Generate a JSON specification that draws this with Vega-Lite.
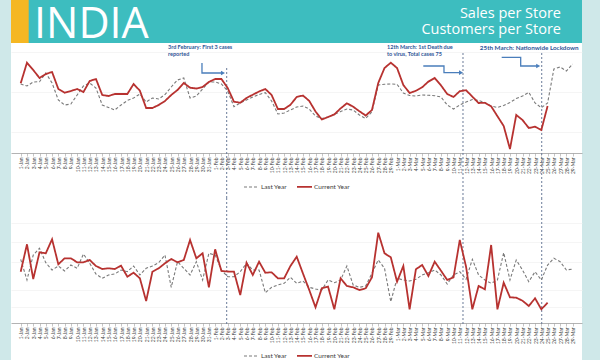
{
  "$schema": "https://vega.github.io/schema/vega-lite/v6.json",
  "background": "#cfe8e9",
  "padding": {"left": 11, "right": 18, "top": 0, "bottom": 0},
  "bounds": "flush",
  "spacing": 0,
  "config": {
    "font": "Lato",
    "view": {"stroke": null},
    "axis": {"labelFont": "Lato"},
    "legend": {"labelFont": "Lato"}
  },
  "resolve": {"scale": {"color": "independent", "strokeDash": "independent", "strokeWidth": "independent"}},
  "datasets": {
    "sales": [
      {"date":"2020-01-01","Last Year":68,"Current Year":68.7},
      {"date":"2020-01-02","Last Year":66,"Current Year":89.3},
      {"date":"2020-01-03","Last Year":70,"Current Year":82},
      {"date":"2020-01-04","Last Year":70.3,"Current Year":74},
      {"date":"2020-01-05","Last Year":79,"Current Year":78},
      {"date":"2020-01-06","Last Year":69,"Current Year":80},
      {"date":"2020-01-07","Last Year":52,"Current Year":63},
      {"date":"2020-01-08","Last Year":47,"Current Year":59.3},
      {"date":"2020-01-09","Last Year":48,"Current Year":61},
      {"date":"2020-01-10","Last Year":57,"Current Year":63},
      {"date":"2020-01-11","Last Year":66,"Current Year":60},
      {"date":"2020-01-12","Last Year":69,"Current Year":71},
      {"date":"2020-01-13","Last Year":64,"Current Year":73},
      {"date":"2020-01-14","Last Year":47,"Current Year":57},
      {"date":"2020-01-15","Last Year":44.5,"Current Year":56},
      {"date":"2020-01-16","Last Year":42,"Current Year":58},
      {"date":"2020-01-17","Last Year":47,"Current Year":58},
      {"date":"2020-01-18","Last Year":51.5,"Current Year":58},
      {"date":"2020-01-19","Last Year":54,"Current Year":68},
      {"date":"2020-01-20","Last Year":58,"Current Year":61.3},
      {"date":"2020-01-21","Last Year":50,"Current Year":44},
      {"date":"2020-01-22","Last Year":54,"Current Year":44},
      {"date":"2020-01-23","Last Year":53,"Current Year":47},
      {"date":"2020-01-24","Last Year":57.5,"Current Year":51},
      {"date":"2020-01-25","Last Year":65,"Current Year":57},
      {"date":"2020-01-26","Last Year":72,"Current Year":62},
      {"date":"2020-01-27","Last Year":74,"Current Year":69},
      {"date":"2020-01-28","Last Year":54,"Current Year":64.3},
      {"date":"2020-01-29","Last Year":56,"Current Year":63.5},
      {"date":"2020-01-30","Last Year":63,"Current Year":65},
      {"date":"2020-01-31","Last Year":70,"Current Year":70},
      {"date":"2020-02-01","Last Year":70,"Current Year":73},
      {"date":"2020-02-02","Last Year":68,"Current Year":73},
      {"date":"2020-02-03","Last Year":61,"Current Year":64},
      {"date":"2020-02-04","Last Year":45.3,"Current Year":50.3},
      {"date":"2020-02-05","Last Year":49,"Current Year":49.3},
      {"date":"2020-02-06","Last Year":52,"Current Year":54},
      {"date":"2020-02-07","Last Year":55,"Current Year":57.3},
      {"date":"2020-02-08","Last Year":57.5,"Current Year":60.5},
      {"date":"2020-02-09","Last Year":59.3,"Current Year":63},
      {"date":"2020-02-10","Last Year":51,"Current Year":57},
      {"date":"2020-02-11","Last Year":38,"Current Year":43},
      {"date":"2020-02-12","Last Year":39,"Current Year":43},
      {"date":"2020-02-13","Last Year":42,"Current Year":47.2},
      {"date":"2020-02-14","Last Year":45,"Current Year":55},
      {"date":"2020-02-15","Last Year":46,"Current Year":56.5},
      {"date":"2020-02-16","Last Year":43,"Current Year":51.1},
      {"date":"2020-02-17","Last Year":36,"Current Year":40.5},
      {"date":"2020-02-18","Last Year":33.5,"Current Year":32.5},
      {"date":"2020-02-19","Last Year":35,"Current Year":35},
      {"date":"2020-02-20","Last Year":37.5,"Current Year":37.6},
      {"date":"2020-02-21","Last Year":40.5,"Current Year":43.6},
      {"date":"2020-02-22","Last Year":43,"Current Year":48.7},
      {"date":"2020-02-23","Last Year":42,"Current Year":45.3},
      {"date":"2020-02-24","Last Year":37,"Current Year":40.7},
      {"date":"2020-02-25","Last Year":33.5,"Current Year":36.5},
      {"date":"2020-02-26","Last Year":40.3,"Current Year":42},
      {"date":"2020-02-27","Last Year":67,"Current Year":69},
      {"date":"2020-02-28","Last Year":67.8,"Current Year":84},
      {"date":"2020-02-29","Last Year":68,"Current Year":89.3},
      {"date":"2020-03-01","Last Year":67.7,"Current Year":84},
      {"date":"2020-03-02","Last Year":59,"Current Year":67},
      {"date":"2020-03-03","Last Year":56.5,"Current Year":59},
      {"date":"2020-03-04","Last Year":56,"Current Year":61.2},
      {"date":"2020-03-05","Last Year":57,"Current Year":64.7},
      {"date":"2020-03-06","Last Year":56.7,"Current Year":70.4},
      {"date":"2020-03-07","Last Year":56.3,"Current Year":74},
      {"date":"2020-03-08","Last Year":55,"Current Year":66.6},
      {"date":"2020-03-09","Last Year":47,"Current Year":58},
      {"date":"2020-03-10","Last Year":43,"Current Year":55},
      {"date":"2020-03-11","Last Year":47,"Current Year":60.8},
      {"date":"2020-03-12","Last Year":50,"Current Year":61.8},
      {"date":"2020-03-13","Last Year":52.5,"Current Year":55.4},
      {"date":"2020-03-14","Last Year":51.5,"Current Year":49},
      {"date":"2020-03-15","Last Year":49.5,"Current Year":49.2},
      {"date":"2020-03-16","Last Year":46,"Current Year":45.7},
      {"date":"2020-03-17","Last Year":44.5,"Current Year":35.8},
      {"date":"2020-03-18","Last Year":46.5,"Current Year":26},
      {"date":"2020-03-19","Last Year":49.5,"Current Year":3},
      {"date":"2020-03-20","Last Year":53.5,"Current Year":37},
      {"date":"2020-03-21","Last Year":56,"Current Year":32},
      {"date":"2020-03-22","Last Year":59.7,"Current Year":24},
      {"date":"2020-03-23","Last Year":49,"Current Year":25.3},
      {"date":"2020-03-24","Last Year":44.3,"Current Year":22},
      {"date":"2020-03-25","Last Year":49,"Current Year":46},
      {"date":"2020-03-26","Last Year":83},
      {"date":"2020-03-27","Last Year":85},
      {"date":"2020-03-28","Last Year":81},
      {"date":"2020-03-29","Last Year":88}
    ],
    "customers": [
      {"date":"2020-01-01","Last Year":63.7,"Current Year":51.3},
      {"date":"2020-01-02","Last Year":43,"Current Year":78.7},
      {"date":"2020-01-03","Last Year":68,"Current Year":44},
      {"date":"2020-01-04","Last Year":74.7,"Current Year":70.7},
      {"date":"2020-01-05","Last Year":60.3,"Current Year":69.7},
      {"date":"2020-01-06","Last Year":53,"Current Year":83.7},
      {"date":"2020-01-07","Last Year":57,"Current Year":58.7},
      {"date":"2020-01-08","Last Year":52,"Current Year":64.7},
      {"date":"2020-01-09","Last Year":58,"Current Year":64.7},
      {"date":"2020-01-10","Last Year":54.7,"Current Year":60.7},
      {"date":"2020-01-11","Last Year":69,"Current Year":60.7},
      {"date":"2020-01-12","Last Year":59.7,"Current Year":63},
      {"date":"2020-01-13","Last Year":49,"Current Year":57},
      {"date":"2020-01-14","Last Year":44.7,"Current Year":54},
      {"date":"2020-01-15","Last Year":48,"Current Year":54.7},
      {"date":"2020-01-16","Last Year":49,"Current Year":54},
      {"date":"2020-01-17","Last Year":53,"Current Year":57.3},
      {"date":"2020-01-18","Last Year":51.3,"Current Year":46.3},
      {"date":"2020-01-19","Last Year":57,"Current Year":50.3},
      {"date":"2020-01-20","Last Year":48,"Current Year":44.7},
      {"date":"2020-01-21","Last Year":54.7,"Current Year":22},
      {"date":"2020-01-22","Last Year":57,"Current Year":51.3},
      {"date":"2020-01-23","Last Year":60.3,"Current Year":54.7},
      {"date":"2020-01-24","Last Year":68,"Current Year":59.7},
      {"date":"2020-01-25","Last Year":35.7,"Current Year":64},
      {"date":"2020-01-26","Last Year":61.3,"Current Year":60.7},
      {"date":"2020-01-27","Last Year":54.7,"Current Year":63},
      {"date":"2020-01-28","Last Year":48,"Current Year":83},
      {"date":"2020-01-29","Last Year":61.3,"Current Year":64.7},
      {"date":"2020-01-30","Last Year":43,"Current Year":69.7},
      {"date":"2020-01-31","Last Year":69.7,"Current Year":35.7},
      {"date":"2020-02-01","Last Year":68,"Current Year":73.7},
      {"date":"2020-02-02","Last Year":53,"Current Year":52},
      {"date":"2020-02-03","Last Year":46.3,"Current Year":51.5},
      {"date":"2020-02-04","Last Year":46.3,"Current Year":51.3},
      {"date":"2020-02-05","Last Year":51.3,"Current Year":28},
      {"date":"2020-02-06","Last Year":59.7,"Current Year":60.3},
      {"date":"2020-02-07","Last Year":53,"Current Year":48},
      {"date":"2020-02-08","Last Year":53,"Current Year":61.3},
      {"date":"2020-02-09","Last Year":30.3,"Current Year":50.3},
      {"date":"2020-02-10","Last Year":35.7,"Current Year":50.7},
      {"date":"2020-02-11","Last Year":38,"Current Year":44.7},
      {"date":"2020-02-12","Last Year":39.7,"Current Year":44.7},
      {"date":"2020-02-13","Last Year":45.7,"Current Year":57},
      {"date":"2020-02-14","Last Year":39.7,"Current Year":66.3},
      {"date":"2020-02-15","Last Year":42,"Current Year":49.5},
      {"date":"2020-02-16","Last Year":35.7,"Current Year":33},
      {"date":"2020-02-17","Last Year":34,"Current Year":15.7},
      {"date":"2020-02-18","Last Year":33,"Current Year":34.7},
      {"date":"2020-02-19","Last Year":43,"Current Year":36.3},
      {"date":"2020-02-20","Last Year":40.3,"Current Year":13.7},
      {"date":"2020-02-21","Last Year":43,"Current Year":44.7},
      {"date":"2020-02-22","Last Year":57,"Current Year":37},
      {"date":"2020-02-23","Last Year":38,"Current Year":35.7},
      {"date":"2020-02-24","Last Year":35.7,"Current Year":33},
      {"date":"2020-02-25","Last Year":37,"Current Year":34.7},
      {"date":"2020-02-26","Last Year":49.7,"Current Year":45.7},
      {"date":"2020-02-27","Last Year":63,"Current Year":90.3},
      {"date":"2020-02-28","Last Year":54.7,"Current Year":69.7},
      {"date":"2020-02-29","Last Year":21.3,"Current Year":65.7},
      {"date":"2020-03-01","Last Year":44.7,"Current Year":41.3},
      {"date":"2020-03-02","Last Year":43,"Current Year":57},
      {"date":"2020-03-03","Last Year":42,"Current Year":13.7},
      {"date":"2020-03-04","Last Year":43.7,"Current Year":53.7},
      {"date":"2020-03-05","Last Year":48,"Current Year":58},
      {"date":"2020-03-06","Last Year":50.3,"Current Year":47},
      {"date":"2020-03-07","Last Year":53,"Current Year":61.3},
      {"date":"2020-03-08","Last Year":48,"Current Year":52.3},
      {"date":"2020-03-09","Last Year":39,"Current Year":43},
      {"date":"2020-03-10","Last Year":48,"Current Year":45.7},
      {"date":"2020-03-11","Last Year":51.3,"Current Year":83},
      {"date":"2020-03-12","Last Year":43.7,"Current Year":56.3},
      {"date":"2020-03-13","Last Year":63.7,"Current Year":13.7},
      {"date":"2020-03-14","Last Year":48,"Current Year":37},
      {"date":"2020-03-15","Last Year":43,"Current Year":33.7},
      {"date":"2020-03-16","Last Year":39.7,"Current Year":78},
      {"date":"2020-03-17","Last Year":43,"Current Year":13.7},
      {"date":"2020-03-18","Last Year":70.3,"Current Year":40.3},
      {"date":"2020-03-19","Last Year":43,"Current Year":25.7},
      {"date":"2020-03-20","Last Year":63,"Current Year":25.3},
      {"date":"2020-03-21","Last Year":53,"Current Year":22.3},
      {"date":"2020-03-22","Last Year":41.3,"Current Year":17},
      {"date":"2020-03-23","Last Year":51.3,"Current Year":24.7},
      {"date":"2020-03-24","Last Year":43,"Current Year":13.7},
      {"date":"2020-03-25","Last Year":58,"Current Year":20.3},
      {"date":"2020-03-26","Last Year":64.7},
      {"date":"2020-03-27","Last Year":61.3},
      {"date":"2020-03-28","Last Year":53},
      {"date":"2020-03-29","Last Year":54}
    ],
    "events": [
      {"date":"2020-02-02T20:10:00Z","event":"first cases"},
      {"date":"2020-03-11T12:15:00Z","event":"first death"},
      {"date":"2020-03-24T01:30:00Z","event":"lockdown"}
    ],
    "notes": [
      {"date":"2020-01-24T11:30:00Z","value":107.5,"event":"first cases","note":"3rd February:  First 3 cases\nreported"},
      {"date":"2020-02-28T09:36:00Z","value":107.5,"event":"first death","note":"12th March: 1st Death due\nto virus, Total cases 75"},
      {"date":"2020-03-14T04:48:00Z","value":107.5,"event":"lockdown","note":"25th March: Nationwide  Lockdown"}
    ],
    "arrows": [
      {"arrow":"a","step":1,"date":"2020-01-29T21:36:00Z","value":89},
      {"arrow":"a","step":2,"date":"2020-01-29T21:36:00Z","value":79},
      {"arrow":"a","step":3,"date":"2020-02-02T02:24:00Z","value":79},
      {"arrow":"b","step":1,"date":"2020-03-05T04:19:00Z","value":86},
      {"arrow":"b","step":2,"date":"2020-03-08T11:31:00Z","value":86},
      {"arrow":"b","step":3,"date":"2020-03-08T11:31:00Z","value":79.3},
      {"arrow":"b","step":4,"date":"2020-03-11T03:36:00Z","value":79.3},
      {"arrow":"c","step":1,"date":"2020-03-17T16:19:00Z","value":94.7},
      {"arrow":"c","step":2,"date":"2020-03-20T17:02:00Z","value":94.7},
      {"arrow":"c","step":3,"date":"2020-03-20T17:02:00Z","value":86},
      {"arrow":"c","step":4,"date":"2020-03-23T08:38:00Z","value":86}
    ],
    "arrowheads": [
      {"arrow":"a","date":"2020-02-02T06:00:00Z","value":79},
      {"arrow":"b","date":"2020-03-11T04:48:00Z","value":79.3},
      {"arrow":"c","date":"2020-03-23T12:00:00Z","value":86}
    ]
  },
  "vconcat": [
    {
      "width": 571,
      "height": 43,
      "view": {"fill": "#3dbdbf", "stroke": null},
      "data": {"values": [{"heading": "INDIA", "topic1": "Sales per Store", "topic2": "Customers per Store"}]},
      "layer": [
        {
          "mark": {"type": "rect", "color": "#f5b723"},
          "encoding": {
            "x": {"datum": 0, "type": "quantitative", "scale": {"domain": [0, 1], "nice": false, "zero": false}, "axis": null},
            "x2": {"datum": 0.031}
          }
        },
        {
          "mark": {"type": "text", "align": "left", "baseline": "alphabetic", "dx": 23, "dy": 16.5, "font": "Open Sans", "fontSize": 43, "color": "white"},
          "encoding": {
            "x": {"datum": 0, "type": "quantitative", "scale": {"domain": [0, 1], "nice": false, "zero": false}, "axis": null},
            "text": {"field": "heading"}
          }
        },
        {
          "mark": {"type": "text", "align": "right", "baseline": "middle", "dx": -21, "dy": -7.5, "font": "Open Sans", "fontSize": 14.5, "color": "white"},
          "encoding": {
            "x": {"datum": 1, "type": "quantitative", "scale": {"domain": [0, 1], "nice": false, "zero": false}, "axis": null},
            "text": {"field": "topic1"}
          }
        },
        {
          "mark": {"type": "text", "align": "right", "baseline": "middle", "dx": -21, "dy": 8, "font": "Open Sans", "fontSize": 14.5, "color": "white"},
          "encoding": {
            "x": {"datum": 1, "type": "quantitative", "scale": {"domain": [0, 1], "nice": false, "zero": false}, "axis": null},
            "text": {"field": "topic2"}
          }
        }
      ]
    },
    {
      "width": 571,
      "height": 155,
      "view": {"fill": "white", "stroke": null},
      "encoding": {
        "x": {
          "field": "date", "type": "temporal",
          "scale": {"type": "utc", "nice": false, "domain": [{"year": 2019, "month": 12, "date": 30, "hours": 10, "minutes": 54, "utc": true}, {"year": 2020, "month": 3, "date": 30, "hours": 11, "minutes": 36, "utc": true}]},
          "axis": {
            "orient": "bottom", "offset": -45, "title": null, "grid": false,
            "tickCount": {"interval": "day", "step": 1},
            "labelExpr": "datum.value < 1577836800000 || datum.value > 1585440000000 ? '' : utcFormat(datum.value, '%-d-%b')",
            "labelAngle": 270, "labelFontSize": 5, "labelColor": "#444444", "labelPadding": 1,
            "labelOverlap": false, "labelFlush": false, "labelBound": false,
            "tickSize": 3, "tickColor": "#a0a0a0", "tickWidth": 0.6,
            "tickOpacity": {"condition": {"test": "datum.value < 1577836800000 || datum.value > 1585440000000", "value": 0}, "value": 1},
            "domainColor": "#a0a0a0", "domainWidth": 0.8
          }
        }
      },
      "layer": [
        {
          "data": {"name": "events"},
          "transform": [{"filter": "datum.event === 'first cases'"}],
          "mark": {"type": "rule", "stroke": "#6b7c99", "strokeDash": [2, 2], "strokeWidth": 1},
          "encoding": {
            "y": {"datum": 84, "type": "quantitative", "scale": {"domain": [-46, 109], "nice": false, "zero": false}},
            "y2": {"datum": -46}
          }
        },
        {
          "data": {"name": "events"},
          "transform": [{"filter": "datum.event !== 'first cases'"}],
          "mark": {"type": "rule", "stroke": "#6b7c99", "strokeDash": [2, 2], "strokeWidth": 1},
          "encoding": {
            "y": {"datum": 99, "type": "quantitative", "scale": {"domain": [-46, 109], "nice": false, "zero": false}},
            "y2": {"datum": -46}
          }
        },
        {
          "data": {"name": "sales"},
          "transform": [{"fold": ["Last Year", "Current Year"], "as": ["series", "value"]}],
          "mark": {"type": "line"},
          "encoding": {
            "y": {
              "field": "value", "type": "quantitative",
              "scale": {"domain": [-46, 109], "nice": false, "zero": false},
              "axis": {"labels": false, "ticks": false, "domain": false, "title": null, "grid": true, "gridColor": "#f0f0f0", "gridWidth": 0.7, "values": [20, 40, 60, 80, 100]}
            },
            "color": {"field": "series", "type": "nominal", "scale": {"domain": ["Last Year", "Current Year"], "range": ["#7a7a7a", "#b73230"]},
              "legend": {"orient": "none", "legendX": 232, "legendY": 135, "direction": "horizontal", "title": null, "symbolType": "stroke", "symbolSize": 225, "symbolStrokeWidth": 1.3, "labelFontSize": 6.5, "labelColor": "#404040", "labelOffset": 1, "columnPadding": 6}},
            "strokeDash": {"field": "series", "type": "nominal", "scale": {"domain": ["Last Year", "Current Year"], "range": [[3, 2], [1, 0]]},
              "legend": {"orient": "none", "legendX": 232, "legendY": 135, "direction": "horizontal", "title": null, "symbolType": "stroke", "symbolSize": 225, "symbolStrokeWidth": 1.3, "labelFontSize": 6.5, "labelColor": "#404040", "labelOffset": 1, "columnPadding": 6}},
            "strokeWidth": {"field": "series", "type": "ordinal", "scale": {"domain": ["Last Year", "Current Year"], "range": [1.1, 1.8]}, "legend": null}
          }
        },
        {
          "data": {"name": "arrows"},
          "mark": {"type": "line", "color": "#4a7ebb", "strokeWidth": 1.3},
          "encoding": {
            "y": {"field": "value", "type": "quantitative", "scale": {"domain": [-46, 109], "nice": false, "zero": false}},
            "detail": {"field": "arrow"},
            "order": {"field": "step", "type": "quantitative"}
          }
        },
        {
          "data": {"name": "arrowheads"},
          "mark": {"type": "point", "shape": "triangle-right", "filled": true, "size": 22, "color": "#4a7ebb", "opacity": 1},
          "encoding": {
            "y": {"field": "value", "type": "quantitative", "scale": {"domain": [-46, 109], "nice": false, "zero": false}}
          }
        },
        {
          "data": {"name": "notes"},
          "transform": [{"filter": "datum.event !== 'lockdown'"}],
          "mark": {"type": "text", "align": "left", "baseline": "top", "lineBreak": "\n", "lineHeight": 7.7, "fontSize": 5.5, "fontWeight": "bold", "color": "#2f5597"},
          "encoding": {
            "y": {"field": "value", "type": "quantitative", "scale": {"domain": [-46, 109], "nice": false, "zero": false}},
            "text": {"field": "note"}
          }
        },
        {
          "data": {"name": "notes"},
          "transform": [{"filter": "datum.event === 'lockdown'"}],
          "mark": {"type": "text", "align": "left", "baseline": "top", "fontSize": 6.3, "fontWeight": "bold", "color": "#2f5597"},
          "encoding": {
            "y": {"field": "value", "type": "quantitative", "scale": {"domain": [-46, 109], "nice": false, "zero": false}},
            "text": {"field": "note"}
          }
        },
        {
          "data": {"values": [{"heading": "India : Sales per store"}]},
          "mark": {"type": "text", "align": "center", "baseline": "middle", "fontSize": 6.8, "fontWeight": "bold", "color": "#111111"},
          "encoding": {
            "x": {"datum": {"year": 2020, "month": 2, "date": 13, "hours": 23, "minutes": 16, "utc": true}, "type": "temporal"},
            "y": {"datum": 95.3, "type": "quantitative", "scale": {"domain": [-46, 109], "nice": false, "zero": false}},
            "text": {"field": "heading"}
          }
        }
      ]
    },
    {
      "width": 571,
      "height": 162,
      "view": {"fill": "white", "stroke": null},
      "encoding": {
        "x": {
          "field": "date", "type": "temporal",
          "scale": {"type": "utc", "nice": false, "domain": [{"year": 2019, "month": 12, "date": 30, "hours": 10, "minutes": 54, "utc": true}, {"year": 2020, "month": 3, "date": 30, "hours": 11, "minutes": 36, "utc": true}]},
          "axis": {
            "orient": "bottom", "offset": -37, "title": null, "grid": false,
            "tickCount": {"interval": "day", "step": 1},
            "labelExpr": "datum.value < 1577836800000 || datum.value > 1585440000000 ? '' : utcFormat(datum.value, '%-d-%b')",
            "labelAngle": 270, "labelFontSize": 5, "labelColor": "#444444", "labelPadding": 1,
            "labelOverlap": false, "labelFlush": false, "labelBound": false,
            "tickSize": 3, "tickColor": "#a0a0a0", "tickWidth": 0.6,
            "tickOpacity": {"condition": {"test": "datum.value < 1577836800000 || datum.value > 1585440000000", "value": 0}, "value": 1},
            "domainColor": "#a0a0a0", "domainWidth": 0.8
          }
        }
      },
      "layer": [
        {
          "data": {"name": "events"},
          "mark": {"type": "rule", "stroke": "#6b7c99", "strokeDash": [2, 2], "strokeWidth": 1},
          "encoding": {
            "y": {"datum": 125, "type": "quantitative", "scale": {"domain": [-37, 125], "nice": false, "zero": false}},
            "y2": {"datum": -2}
          }
        },
        {
          "data": {"name": "customers"},
          "transform": [{"fold": ["Last Year", "Current Year"], "as": ["series", "value"]}],
          "mark": {"type": "line"},
          "encoding": {
            "y": {
              "field": "value", "type": "quantitative",
              "scale": {"domain": [-37, 125], "nice": false, "zero": false},
              "axis": {"labels": false, "ticks": false, "domain": false, "title": null, "grid": true, "gridColor": "#f0f0f0", "gridWidth": 0.7, "values": [16, 33, 61, 81, 100]}
            },
            "color": {"field": "series", "type": "nominal", "scale": {"domain": ["Last Year", "Current Year"], "range": ["#7a7a7a", "#b73230"]},
              "legend": {"orient": "none", "legendX": 232, "legendY": 149, "direction": "horizontal", "title": null, "symbolType": "stroke", "symbolSize": 225, "symbolStrokeWidth": 1.3, "labelFontSize": 6.5, "labelColor": "#404040", "labelOffset": 1, "columnPadding": 6}},
            "strokeDash": {"field": "series", "type": "nominal", "scale": {"domain": ["Last Year", "Current Year"], "range": [[3, 2], [1, 0]]},
              "legend": {"orient": "none", "legendX": 232, "legendY": 149, "direction": "horizontal", "title": null, "symbolType": "stroke", "symbolSize": 225, "symbolStrokeWidth": 1.3, "labelFontSize": 6.5, "labelColor": "#404040", "labelOffset": 1, "columnPadding": 6}},
            "strokeWidth": {"field": "series", "type": "ordinal", "scale": {"domain": ["Last Year", "Current Year"], "range": [1.1, 1.8]}, "legend": null}
          }
        },
        {
          "data": {"values": [{"heading": "India: Customers per store"}]},
          "mark": {"type": "text", "align": "center", "baseline": "middle", "fontSize": 6.8, "fontWeight": "bold", "color": "#111111"},
          "encoding": {
            "x": {"datum": {"year": 2020, "month": 2, "date": 13, "hours": 23, "minutes": 16, "utc": true}, "type": "temporal"},
            "y": {"datum": 94.7, "type": "quantitative", "scale": {"domain": [-37, 125], "nice": false, "zero": false}},
            "text": {"field": "heading"}
          }
        }
      ]
    }
  ]
}
